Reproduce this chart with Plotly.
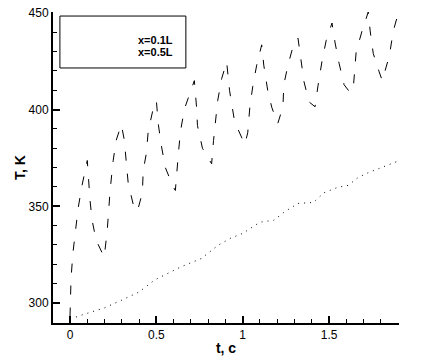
import plotly.graph_objects as go

# x = 0.1L (dashed, oscillating)
t_01 = [0.0, 0.006, 0.017, 0.035, 0.047, 0.07, 0.093, 0.10, 0.116, 0.128, 0.151, 0.198,
        0.215, 0.233, 0.25, 0.267, 0.297, 0.314, 0.337, 0.366, 0.39,
        0.419, 0.424, 0.442, 0.453, 0.483, 0.50, 0.512, 0.529, 0.552, 0.599, 0.61,
        0.628, 0.64, 0.663, 0.709, 0.72, 0.733, 0.738, 0.767, 0.82,
        0.831, 0.843, 0.855, 0.878, 0.907, 0.924, 0.953, 1.012,
        1.029, 1.041, 1.058, 1.081, 1.11, 1.122, 1.145, 1.169, 1.203,
        1.233, 1.238, 1.262, 1.297, 1.32, 1.337, 1.355, 1.384, 1.419,
        1.436, 1.459, 1.483, 1.517, 1.535, 1.558, 1.587, 1.622,
        1.64, 1.657, 1.692, 1.727, 1.738, 1.756, 1.79, 1.808,
        1.849, 1.872, 1.901]
T_01 = [293, 312.9, 326, 338.7, 349, 361, 372, 373.7, 353, 342.8, 332.5, 323.7,
        337, 359, 373.7, 384, 392.3, 384.5, 361.9, 351, 347.4,
        357, 368.6, 377.3, 389, 401, 404.6, 392, 381.4, 370, 359.8, 358.2,
        377.8, 389, 400.5, 412.4, 415, 401, 391.8, 380, 372,
        384, 395.9, 404.6, 416, 424.7, 409.8, 393.8, 382,
        388, 401, 411.9, 423, 433.5, 423, 409.8, 401, 392.8,
        401.5, 412.9, 423, 434.5, 437, 424.7, 414.4, 404, 401.5,
        412.4, 425, 435.6, 444.8, 434.5, 424, 412.9, 408.8,
        410.8, 430, 441, 450.5, 440.7, 429, 419.6, 415,
        427.8, 440.7, 450]

# x = 0.5L (dotted, slowly rising)
t_05 = [0.0, 0.04, 0.058, 0.2, 0.3, 0.4, 0.49, 0.64, 0.76, 0.86, 0.93, 1.0, 1.1, 1.18,
        1.24, 1.32, 1.41, 1.47, 1.55, 1.61, 1.67, 1.73, 1.88, 1.905]
T_05 = [293, 292.8, 293.5, 297.5, 301.5, 305.7, 311.9, 318.6, 323, 330, 333.5, 336,
        341.8, 342.8, 347, 351.5, 352, 357, 359.8, 360.8, 365, 367.5, 372.7, 373.5]

legend_labels = ["x=0.1L", "x=0.5L"]

FONT = "Liberation Sans, Arial, sans-serif"

fig = go.Figure()
fig.add_trace(go.Scatter(x=t_01, y=T_01, mode="lines",
                         line=dict(color="black", width=1, dash="9px,13px"),
                         name=legend_labels[0], showlegend=False))
fig.add_trace(go.Scatter(x=t_05, y=T_05, mode="lines",
                         line=dict(color="black", width=1, dash="1px,5px"),
                         name=legend_labels[1], showlegend=False))

axis_common = dict(showgrid=False, zeroline=False, showline=True, linecolor="black",
                   linewidth=2, ticks="inside", tickcolor="black", tickwidth=2,
                   ticklen=7, tickfont=dict(family=FONT, size=12, color="black"),
                   mirror=False, automargin=False)

fig.update_xaxes(range=[-0.0985, 1.905], tickvals=[0, 0.5, 1, 1.5],
                 ticktext=["0", "0.5", "1", "1.5"],
                 minor=dict(ticks="inside", dtick=0.1, tick0=0, ticklen=4,
                            tickcolor="black", tickwidth=1),
                 title=dict(text="<b>t, c</b>", font=dict(family=FONT, size=14, color="black"),
                            standoff=2),
                 **axis_common)
fig.update_yaxes(range=[289.65, 450.5], tickvals=[300, 350, 400, 450],
                 minor=dict(ticks="inside", dtick=10, tick0=300, ticklen=4,
                            tickcolor="black", tickwidth=1),
                 title=dict(text="<b>T, K</b>", font=dict(family=FONT, size=14, color="black"),
                            standoff=0),
                 **axis_common)

# legend box
fig.add_shape(type="rect", xref="paper", yref="paper", x0=0.020, x1=0.384,
              y0=0.820, y1=0.987, line=dict(color="black", width=1),
              fillcolor="white", layer="above")
for i, lab in enumerate(legend_labels):
    fig.add_annotation(xref="paper", yref="paper", x=0.3526, y=[0.91, 0.871][i],
                       xanchor="right", yanchor="middle", showarrow=False,
                       text="<b>" + lab + "</b>",
                       font=dict(family=FONT, size=11, color="black"))

fig.update_layout(width=447, height=356,
                  margin=dict(l=53, r=48, t=12, b=33),
                  paper_bgcolor="white", plot_bgcolor="white",
                  font=dict(family=FONT, color="black"))

# remove the default 8px body margin of the page
fig.write_html("out.html", config={"displayModeBar": False},
               post_script="document.body.style.margin='0px';document.body.style.overflow='hidden';")
